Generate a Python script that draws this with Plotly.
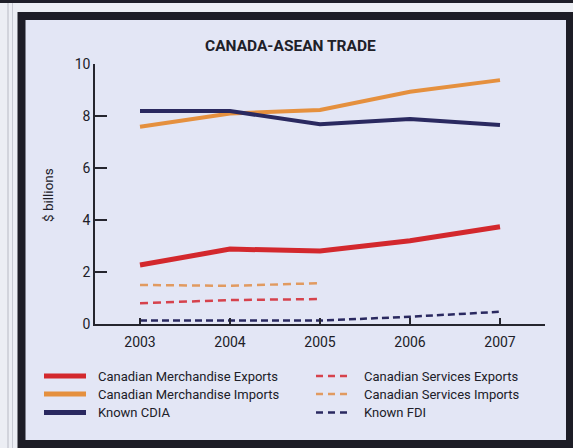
import plotly.graph_objects as go

years = [2003, 2004, 2005, 2006, 2007]
svc_years = [2003, 2004, 2005]

merch_exports = [2.27, 2.88, 2.81, 3.2, 3.74]
merch_imports = [7.59, 8.1, 8.23, 8.93, 9.38]
known_cdia = [8.19, 8.19, 7.68, 7.88, 7.65]
svc_exports = [0.8, 0.92, 0.96]
svc_imports = [1.5, 1.47, 1.57]
known_fdi = [0.13, 0.12, 0.13, 0.28, 0.47]

y_ticks = [0, 2, 4, 6, 8, 10]

RED = "#d3282d"
ORANGE = "#e5903e"
NAVY = "#2a2960"
RED_D = "#d6424c"
ORANGE_D = "#e19a60"
TXT = "#202028"
FONT = "Roboto, Liberation Sans, sans-serif"

W, H = 573, 448
L, R, T, B = 95, 545, 64, 324


def px(xp):
    return (xp - L) / (R - L)


def py(yp):
    return (B - yp) / (B - T)


series = [
    # name, x, y, colour, width, dash, legend column, legend row
    ("Canadian Merchandise Exports", years, merch_exports, RED, 5, None, 0, 0),
    ("Canadian Merchandise Imports", years, merch_imports, ORANGE, 4, None, 0, 1),
    ("Known CDIA", years, known_cdia, NAVY, 4, None, 0, 2),
    ("Canadian Services Exports", svc_years, svc_exports, RED_D, 2.5, "8px,5px", 1, 0),
    ("Canadian Services Imports", svc_years, svc_imports, ORANGE_D, 2.5, "8px,5px", 1, 1),
    ("Known FDI", years, known_fdi, NAVY, 2.5, "7px,4px", 1, 2),
]

fig = go.Figure()
for name, xs, ys, col, w, dash, _, _ in series:
    fig.add_trace(go.Scatter(x=xs, y=ys, mode="lines", name=name,
                             line=dict(color=col, width=w, dash=dash), showlegend=False))

shapes = [
    dict(type="rect", xref="paper", yref="paper", x0=px(0), x1=px(W), y0=py(3), y1=py(0),
         fillcolor="#1e1e28", line=dict(width=0), layer="below"),
    dict(type="line", xref="paper", yref="paper", x0=px(8), x1=px(8), y0=py(H), y1=py(3),
         line=dict(color="#b8bac4", width=1), layer="below"),
    dict(type="line", xref="paper", yref="paper", x0=px(12.5), x1=px(12.5), y0=py(H), y1=py(3),
         line=dict(color="#c8cad3", width=1), layer="below"),
    dict(type="rect", xref="paper", yref="paper", x0=px(21.5), x1=px(570), y0=py(444), y1=py(16),
         fillcolor="#e3e6f5", line=dict(color="#1d1d26", width=8), layer="below"),
]

annotations = [
    dict(text="<b>CANADA-ASEAN TRADE</b>", xref="paper", yref="paper", x=px(290), y=py(46),
         xanchor="center", yanchor="middle", showarrow=False,
         font=dict(family=FONT, size=15.5, color=TXT)),
    dict(text="$ billions", xref="paper", yref="paper", x=px(48), y=py(195),
         xanchor="center", yanchor="middle", showarrow=False, textangle=-90,
         font=dict(family=FONT, size=13.5, color=TXT)),
]

# hand-placed two-column legend
col_line = [(44, 86), (316, 351)]
col_text = [96, 362]
row_y = [376, 394, 412.5]
for name, _, _, col, w, dash, c, r in series:
    x0, x1 = col_line[c]
    shapes.append(dict(type="line", xref="paper", yref="paper", x0=px(x0), x1=px(x1),
                       y0=py(row_y[r]), y1=py(row_y[r]),
                       line=dict(color=col, width=5 if dash is None else 2.5,
                                 dash=dash if dash is None else "7px,5px")))
    annotations.append(dict(text=name, xref="paper", yref="paper", x=px(col_text[c]),
                            y=py(row_y[r]), xanchor="left", yanchor="middle", showarrow=False,
                            font=dict(family=FONT, size=13, color=TXT)))

fig.update_layout(
    width=W, height=H,
    margin=dict(l=L, r=W - R, t=T, b=H - B, pad=0),
    paper_bgcolor="#eceef4",
    plot_bgcolor="rgba(0,0,0,0)",
    shapes=shapes,
    annotations=annotations,
    font=dict(family=FONT, size=13, color=TXT),
    showlegend=False,
    xaxis=dict(range=[2002.5, 2007.5], tickvals=years, ticktext=[str(y) for y in years],
               showline=True, linecolor="#25252e", linewidth=1.5, ticks="inside", ticklen=6,
               tickwidth=1.5, tickcolor="#25252e", showgrid=False, zeroline=False,
               ticklabelstandoff=4,
               tickfont=dict(family=FONT, size=14, color=TXT), fixedrange=True),
    yaxis=dict(range=[0, 10], tickvals=y_ticks, showline=True, linecolor="#25252e", linewidth=1.5,
               ticks="inside", ticklen=12, tickwidth=1.5, tickcolor="#25252e", showgrid=False,
               zeroline=False, tickfont=dict(family=FONT, size=14, color=TXT), fixedrange=True),
)

fig.write_html("out.html")
